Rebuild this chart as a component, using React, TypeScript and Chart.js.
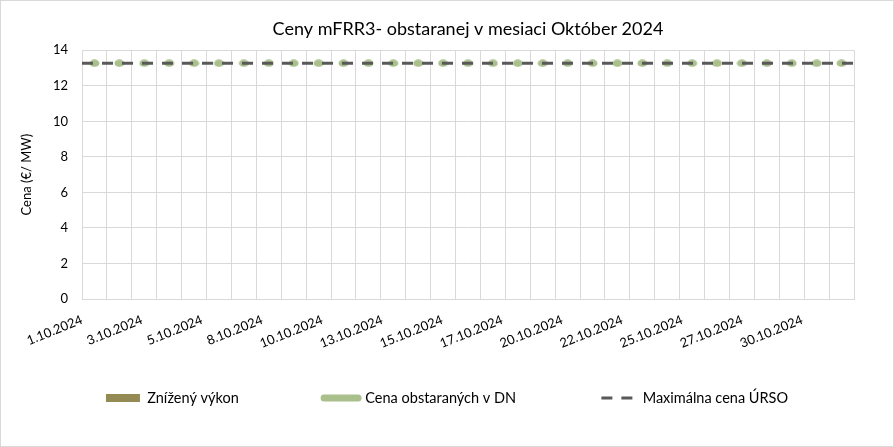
import React, { useEffect, useRef } from "react";
import { Chart, registerables } from "chart.js";

Chart.register(...registerables);

const chartTitle = "Ceny mFRR3- obstaranej v mesiaci Október 2024";
const yAxisTitle = "Cena (€/ MW)";

const categories = [
  "1.10.2024", "2.10.2024", "3.10.2024", "4.10.2024", "5.10.2024", "6.10.2024",
  "7.10.2024", "8.10.2024", "9.10.2024", "10.10.2024", "11.10.2024", "12.10.2024",
  "13.10.2024", "14.10.2024", "15.10.2024", "16.10.2024", "17.10.2024", "18.10.2024",
  "19.10.2024", "20.10.2024", "21.10.2024", "22.10.2024", "23.10.2024", "24.10.2024",
  "25.10.2024", "26.10.2024", "27.10.2024", "28.10.2024", "29.10.2024", "30.10.2024",
  "31.10.2024",
];

const xTickLabels = [
  "1.10.2024", "3.10.2024", "5.10.2024", "8.10.2024", "10.10.2024", "13.10.2024",
  "15.10.2024", "17.10.2024", "20.10.2024", "22.10.2024", "25.10.2024", "27.10.2024",
  "30.10.2024",
];

const seriesNames = ["Znížený výkon", "Cena obstaraných v DN", "Maximálna cena ÚRSO"];

const reducedOutput = [
  0, 0, 0, 0, 0, 0, 0, 0, 0, 0, 0, 0, 0, 0, 0, 0, 0, 0, 0, 0, 0, 0, 0, 0, 0, 0, 0, 0, 0, 0, 0,
];

const dnPrice = [
  13.27, 13.27, 13.27, 13.27, 13.27, 13.27, 13.27, 13.27, 13.27, 13.27, 13.27,
  13.27, 13.27, 13.27, 13.27, 13.27, 13.27, 13.27, 13.27, 13.27, 13.27, 13.27,
  13.27, 13.27, 13.27, 13.27, 13.27, 13.27, 13.27, 13.27, 13.27,
];

const maxPriceUrso = [
  13.27, 13.27, 13.27, 13.27, 13.27, 13.27, 13.27, 13.27, 13.27, 13.27, 13.27,
  13.27, 13.27, 13.27, 13.27, 13.27, 13.27, 13.27, 13.27, 13.27, 13.27, 13.27,
  13.27, 13.27, 13.27, 13.27, 13.27, 13.27, 13.27, 13.27, 13.27,
];

const yMin = 0;
const yMax = 14;
const yStep = 2;
const labelStep = 2.41;

const BAR_COLOR = "#948A54";
const GREEN = "#A9BF8C";
const DASH_COLOR = "#595959";
const GRID = "#D9D9D9";
const FONT = "Lato";

function makeEllipse(): HTMLCanvasElement {
  const c = document.createElement("canvas");
  c.width = 11;
  c.height = 8;
  const g = c.getContext("2d")!;
  g.fillStyle = GREEN;
  g.beginPath();
  g.ellipse(5.5, 4, 5, 3.7, 0, 0, Math.PI * 2);
  g.fill();
  return c;
}

export default function App() {
  const ref = useRef<HTMLCanvasElement | null>(null);

  useEffect(() => {
    if (!ref.current) return;
    const ellipse = makeEllipse();

    const dashPoints = maxPriceUrso.map((v, i) => ({ x: i, y: v }));
    dashPoints.push({ x: categories.length, y: maxPriceUrso[maxPriceUrso.length - 1] });

    const bgPlugin = {
      id: "bg",
      beforeDraw(chart: any) {
        const { ctx, width, height } = chart;
        ctx.save();
        ctx.fillStyle = "#FFFFFF";
        ctx.fillRect(0, 0, width, height);
        ctx.strokeStyle = GRID;
        ctx.lineWidth = 1;
        ctx.strokeRect(0.5, 0.5, width - 1, height - 1);
        ctx.restore();
      },
    };

    const spacer = {
      text: "",
      fillStyle: "rgba(0,0,0,0)",
      strokeStyle: "rgba(0,0,0,0)",
      lineWidth: 0,
      pointStyle: "rect",
      hidden: false,
    };

    const chart = new Chart(ref.current, {
      type: "bar",
      data: {
        labels: categories,
        datasets: [
          {
            type: "line",
            label: seriesNames[2],
            data: dashPoints as any,
            xAxisID: "xl",
            yAxisID: "y",
            borderColor: DASH_COLOR,
            borderWidth: 3,
            borderDash: [11, 9],
            pointRadius: 0,
            fill: false,
            order: 0,
          },
          {
            type: "line",
            label: seriesNames[1],
            data: dnPrice,
            xAxisID: "x",
            yAxisID: "y",
            showLine: false,
            pointStyle: ellipse as any,
            pointRadius: 5,
            order: 1,
          },
          {
            type: "bar",
            label: seriesNames[0],
            data: reducedOutput,
            xAxisID: "x",
            yAxisID: "y",
            backgroundColor: BAR_COLOR,
            borderWidth: 0,
            order: 2,
          },
        ],
      },
      options: {
        responsive: false,
        animation: false,
        layout: { padding: { left: 0, right: 0, top: 0, bottom: 31.75 } },
        plugins: {
          tooltip: { enabled: false },
          title: {
            display: true,
            fullSize: false,
            text: chartTitle,
            color: "#000000",
            font: { family: FONT, size: 18, weight: "normal" },
            padding: { top: 18.2, bottom: 10.5 },
          },
          legend: {
            display: true,
            position: "bottom",
            labels: {
              usePointStyle: true,
              pointStyleWidth: 34,
              boxHeight: 8,
              padding: 22,
              color: "#000000",
              font: { family: FONT, size: 14.5 },
              generateLabels: () =>
                [
                  {
                    text: seriesNames[0],
                    fillStyle: BAR_COLOR,
                    strokeStyle: BAR_COLOR,
                    lineWidth: 0,
                    pointStyle: "rect",
                    hidden: false,
                    datasetIndex: 2,
                  },
                  spacer,
                  {
                    text: seriesNames[1],
                    fillStyle: GREEN,
                    strokeStyle: GREEN,
                    lineWidth: 7,
                    lineCap: "round",
                    pointStyle: "line",
                    hidden: false,
                    datasetIndex: 1,
                  },
                  { ...spacer },
                  {
                    text: seriesNames[2],
                    fillStyle: DASH_COLOR,
                    strokeStyle: DASH_COLOR,
                    lineWidth: 3,
                    lineDash: [11, 9],
                    pointStyle: "line",
                    hidden: false,
                    datasetIndex: 0,
                  },
                ] as any,
            },
          },
        },
        scales: {
          x: {
            type: "category",
            position: "bottom",
            weight: 0,
            offset: true,
            grid: { display: true, offset: true, color: GRID, drawTicks: false },
            border: { display: true, color: GRID },
            ticks: { display: false },
            afterFit: (s: any) => {
              s.height = 0;
            },
          },
          xl: {
            type: "linear",
            position: "bottom",
            weight: 1,
            min: 0,
            max: categories.length,
            offset: false,
            grid: { display: false, drawTicks: false },
            border: { display: false },
            ticks: {
              stepSize: labelStep,
              includeBounds: false,
              autoSkip: false,
              maxRotation: 22,
              minRotation: 22,
              padding: 13,
              color: "#000000",
              font: { family: FONT, size: 13 },
              callback: (_v: any, i: number) => xTickLabels[i] ?? "",
            },
            afterFit: (s: any) => {
              s.height = 69.75;
            },
          },
          y: {
            type: "linear",
            position: "left",
            min: yMin,
            max: yMax,
            grid: { color: GRID, drawTicks: false },
            border: { display: true, color: GRID },
            ticks: {
              stepSize: yStep,
              padding: 14,
              color: "#000000",
              font: { family: FONT, size: 13 },
            },
            title: {
              display: true,
              text: yAxisTitle,
              color: "#000000",
              font: { family: FONT, size: 13 },
              padding: { top: 19, bottom: 0 },
            },
            afterFit: (s: any) => {
              s.width = 82;
            },
          },
          yr: {
            type: "linear",
            position: "right",
            display: true,
            grid: { display: false, drawTicks: false },
            border: { display: false },
            ticks: { display: false },
            afterFit: (s: any) => {
              s.width = 40;
            },
          },
        },
      } as any,
      plugins: [bgPlugin],
    });

    return () => chart.destroy();
  }, []);

  return (
    <div style={{ position: "absolute", left: 0, top: 0, width: 894, height: 447 }}>
      <canvas ref={ref} width={894} height={447} style={{ width: 894, height: 447, display: "block" }} />
    </div>
  );
}
